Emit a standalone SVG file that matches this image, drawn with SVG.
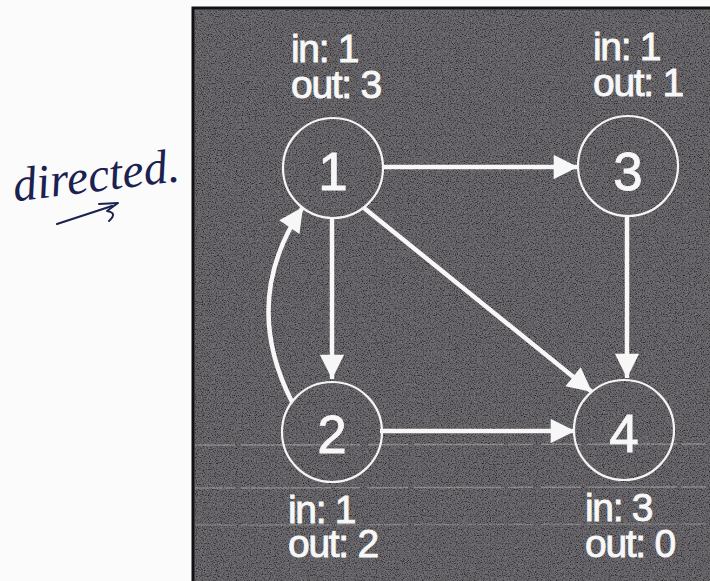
<svg xmlns="http://www.w3.org/2000/svg" width="710" height="581" viewBox="0 0 710 581">
  <defs>
    <style>
      .node circle { fill: none; stroke: #f4f4f4; stroke-width: 2.2; }
      .num { font-family: "Liberation Sans", Arial, sans-serif; font-size: 53px; fill: #f7f7f7; text-anchor: middle; stroke: #f7f7f7; stroke-width: 0.8; }
      .deg { font-family: "Liberation Sans", Arial, sans-serif; font-size: 39px; fill: #f7f7f7; letter-spacing: -1.3px; stroke: #f7f7f7; stroke-width: 0.9; }
      .edge { fill: none; stroke: #f7f7f7; stroke-width: 4.5; }
      .scan { stroke: #e8e8e8; stroke-width: 1.5; opacity: 0.3; stroke-dasharray: 40 6 90 4 25 8; }
      .ink { font-family: "Liberation Serif", "DejaVu Serif", serif; font-style: italic; font-size: 48px; fill: #1b2150; }
    </style>
    <marker id="head" viewBox="0 0 10 10" refX="10" refY="5" markerWidth="5.6" markerHeight="5.4" markerUnits="strokeWidth" orient="auto">
      <path d="M0,0 L10,5 L0,10 Z" fill="#f7f7f7"/>
    </marker>
    <filter id="grain" x="0" y="0" width="100%" height="100%">
      <feTurbulence type="fractalNoise" baseFrequency="0.85" numOctaves="2" seed="7" result="n"/>
      <feColorMatrix in="n" type="matrix" values="0 0 0 0 0  0 0 0 0 0  0 0 0 0 0  -2.4 0 0 0 1.25"/>
    </filter>
    <filter id="speck" x="0" y="0" width="100%" height="100%">
      <feTurbulence type="fractalNoise" baseFrequency="0.7" numOctaves="1" seed="19" result="n"/>
      <feColorMatrix in="n" type="matrix" values="0 0 0 0 1  0 0 0 0 1  0 0 0 0 1  2.4 0 0 0 -1.35"/>
    </filter>
  </defs>

  <!-- paper -->
  <rect x="0" y="0" width="710" height="581" fill="#fbfbfb"/>

  <!-- handwritten note -->
  <g id="note">
    <text class="ink" x="12" y="192" transform="rotate(-7 90 175)">directed.</text>
    <path d="M57,224 C75,218 94,212 112,206" fill="none" stroke="#1b2150" stroke-width="2.2" stroke-linecap="round"/>
    <path d="M99,204 L118,203 L107,211 Q118,213 109,221" fill="none" stroke="#1b2150" stroke-width="2" stroke-linecap="round" stroke-linejoin="round"/>
  </g>

  <!-- printed panel -->
  <rect x="193" y="8" width="530" height="590" fill="#69676b" stroke="#111" stroke-width="3"/>
  <rect x="195" y="10" width="520" height="580" filter="url(#grain)" opacity="0.8"/>
  <rect x="195" y="10" width="520" height="580" filter="url(#speck)" opacity="0.3"/>
  <line class="scan" x1="195" y1="445" x2="710" y2="444"/>
  <line class="scan" x1="195" y1="488" x2="710" y2="487"/>
  <line class="scan" x1="195" y1="525" x2="710" y2="524" style="opacity:0.2"/>

  <!-- connectors -->
  <g id="edges">
    <path class="edge" d="M383,167 L578,167" marker-end="url(#head)"/>
    <path class="edge" d="M332,218 L332,379" marker-end="url(#head)"/>
    <path class="edge" d="M627,217 L627,378" marker-end="url(#head)"/>
    <path class="edge" d="M364,208 L592,392" marker-end="url(#head)"/>
    <path class="edge" d="M380,431 L575,431" marker-end="url(#head)"/>
    <path class="edge" d="M292,402 Q240,300 303,207" marker-end="url(#head)"/>
  </g>

  <!-- nodes -->
  <g id="node1" class="node">
    <circle cx="333" cy="168" r="50"/>
    <text class="num" x="333" y="190">1</text>
    <text class="deg"><tspan x="291" y="62">in: 1</tspan><tspan x="291" y="98">out: 3</tspan></text>
  </g>
  <g id="node3" class="node">
    <circle cx="628" cy="166" r="50"/>
    <text class="num" x="628" y="190">3</text>
    <text class="deg"><tspan x="593" y="60">in: 1</tspan><tspan x="593" y="96">out: 1</tspan></text>
  </g>
  <g id="node2" class="node">
    <circle cx="332" cy="432" r="50"/>
    <text class="num" x="332" y="453">2</text>
    <text class="deg"><tspan x="288" y="523">in: 1</tspan><tspan x="288" y="557">out: 2</tspan></text>
  </g>
  <g id="node4" class="node">
    <circle cx="624" cy="430" r="50"/>
    <text class="num" x="624" y="452">4</text>
    <text class="deg"><tspan x="585" y="521">in: 3</tspan><tspan x="585" y="557">out: 0</tspan></text>
  </g>
</svg>
